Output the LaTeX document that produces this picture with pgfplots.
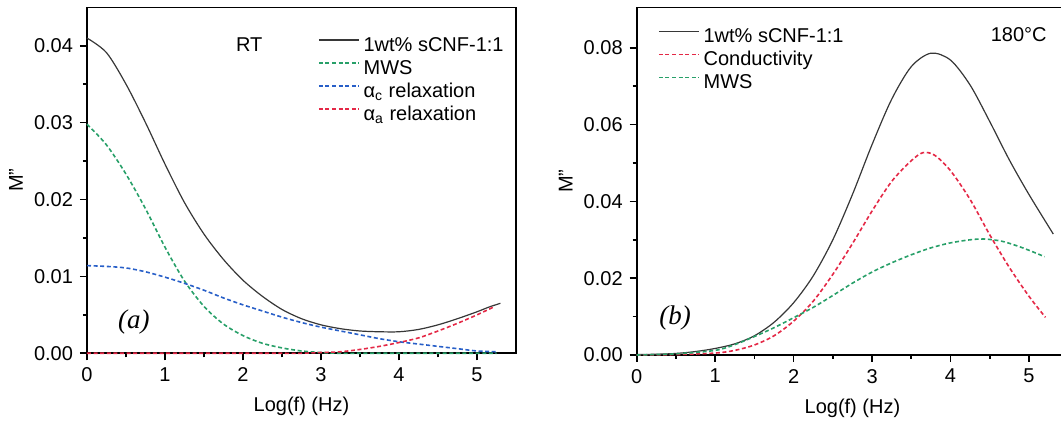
\documentclass[border=0pt]{standalone}
\usepackage{pgfplots}
\pgfplotsset{compat=1.18}
\usepackage{fontspec}
\setmainfont{Liberation Sans}
\newfontfamily\serifit{Liberation Serif}
\definecolor{cblack}{RGB}{55,55,55}
\definecolor{cgreen}{RGB}{40,160,105}
\definecolor{cblue}{RGB}{40,95,200}
\definecolor{cred}{RGB}{228,40,70}
\pgfplotsset{
 myaxis/.style={
  scale only axis,
  xmin=0, xmax=5.5, ymin=0,
  xtick={0,1,2,3,4,5},
  minor x tick num=1, minor y tick num=1,
  tick pos=left, tick align=outside,
  major tick length=3.5pt, minor tick length=2pt,
  axis line style={line width=0.8pt},
  every tick/.append style={black, line width=0.8pt},
  tick label style={font=\fontsize{10}{12}\selectfont},
  label style={font=\fontsize{10}{12}\selectfont},
  /pgf/number format/assume math mode=true,
  yticklabel style={/pgf/number format/fixed, /pgf/number format/fixed zerofill, /pgf/number format/precision=2},
  scaled y ticks=false,
  xlabel={Log(f) (Hz)},
  ylabel={M\symbol{34}},
  every axis y label/.style={at={(rel axis cs:0,0.5)}, xshift=-35.5pt, rotate=90, anchor=center},
  every axis x label/.style={at={(rel axis cs:0.5,0)}, yshift=-26.7pt, anchor=center},
  legend style={draw=none, fill=none, font=\fontsize{10}{12}\selectfont, inner sep=0pt, outer sep=0pt, row sep=1.5pt, column sep=2pt,
     nodes={inner sep=0pt, text height=7.5pt, text depth=2.5pt}},
  legend cell align=left,
  legend image code/.code={\draw[#1] (0pt,0.3em) -- (20pt,0.3em);},
  clip=false,
 },
 solidc/.style={cblack, line width=0.6pt, smooth},
 dashc/.style={line width=0.8pt, dash pattern=on 2pt off 1.3pt, smooth},
}
\begin{document}
\begin{tikzpicture}
\useasboundingbox (0,0) rectangle (530.5pt,213pt);
% ---------- panel (a) ----------
\begin{axis}[myaxis,
  at={(43.5pt,36.35pt)}, anchor=south west,
  width=214.5pt, height=173pt,
  ymax=0.045, ytick={0,0.01,0.02,0.03,0.04},
  legend style={at={(rel axis cs:0.5385,0.917)}, anchor=north west}]
\addplot[solidc] coordinates {
(0,0.0410) (0.25,0.0391) (0.5,0.0350) (0.75,0.0300) (1.0,0.0246) (1.25,0.0196)
(1.5,0.0155) (1.75,0.0122) (2.0,0.0095) (2.25,0.0074) (2.5,0.0057) (2.75,0.0045)
(3.0,0.0037) (3.25,0.0032) (3.5,0.0029) (3.75,0.0028) (4.0,0.0028) (4.25,0.0031)
(4.5,0.0037) (4.75,0.0045) (5.0,0.0054) (5.15,0.0060) (5.3,0.0065)};
\addlegendentry{1wt\% sCNF-1:1}
\addplot[dashc, cgreen] coordinates {
(0,0.0298) (0.25,0.0271) (0.5,0.0233) (0.75,0.0188) (1.0,0.0138) (1.25,0.0094)
(1.5,0.0061) (1.75,0.0038) (2.0,0.0023) (2.25,0.0013) (2.5,0.0007) (2.75,0.0003)
(3.0,0.0001) (3.25,0) (3.5,0) (4.0,0) (4.5,0) (5.0,0) (5.25,0)};
\addlegendentry{MWS}
\addplot[dashc, cblue] coordinates {
(0,0.0114) (0.25,0.0113) (0.5,0.0111) (0.75,0.0106) (1.0,0.0099) (1.25,0.0091)
(1.5,0.0082) (1.75,0.0072) (2.0,0.0063) (2.25,0.0055) (2.5,0.0047) (2.75,0.0040)
(3.0,0.0034) (3.25,0.0029) (3.5,0.0024) (3.75,0.0019) (4.0,0.0015) (4.25,0.0012)
(4.5,0.0009) (4.75,0.0006) (5.0,0.0003) (5.25,0.0002)};
\addlegendentry{α\textsubscript{c} relaxation}
\addplot[dashc, cred] coordinates {
(0,0) (0.5,0) (1.0,0) (1.5,0) (2.0,0) (2.5,0) (2.75,0) (3.0,0.0001) (3.25,0.0002)
(3.5,0.0005) (3.75,0.0009) (4.0,0.0014) (4.25,0.0020) (4.5,0.0029) (4.75,0.0039)
(5.0,0.0050) (5.23,0.0061)};
\addlegendentry{α\textsubscript{a} relaxation}
\node[font=\fontsize{10}{12}\selectfont] at (axis cs:2.08,0.0401) {RT};
\node[font=\serifit\itshape\fontsize{13.5}{15}\selectfont] at (axis cs:0.6,0.0041) {(a)};
\end{axis}
% ---------- panel (b) ----------
\begin{axis}[myaxis,
  at={(318.35pt,35.5pt)}, anchor=south west,
  width=215.75pt, height=173.75pt,
  ymax=0.0905, ytick={0,0.02,0.04,0.06,0.08},
  legend style={at={(rel axis cs:0.0494,0.943)}, anchor=north west}]
\addplot[solidc] coordinates {
(0,0.0001) (0.25,0.0002) (0.5,0.0004) (0.75,0.0009) (1.0,0.0017) (1.25,0.0029)
(1.5,0.0050) (1.75,0.0085) (2.0,0.0136) (2.25,0.0206) (2.5,0.0300) (2.75,0.0418)
(3.0,0.0548) (3.25,0.0666) (3.5,0.0751) (3.75,0.0786) (4.0,0.0768) (4.25,0.0703)
(4.5,0.0608) (4.75,0.0508) (5.0,0.0418) (5.31,0.0315)};
\addlegendentry{1wt\% sCNF-1:1}
\addplot[dashc, cred] coordinates {
(0,0) (0.5,0.0001) (1.0,0.0005) (1.25,0.0012) (1.5,0.0026) (1.75,0.0050)
(2.0,0.0088) (2.25,0.0140) (2.5,0.0210) (2.75,0.0290) (3.0,0.0375) (3.25,0.0452)
(3.5,0.0506) (3.65,0.0527) (3.8,0.0520) (4.0,0.0480) (4.25,0.0405) (4.5,0.0313)
(4.75,0.0228) (5.0,0.0153) (5.21,0.0098)};
\addlegendentry{Conductivity}
\addplot[dashc, cgreen] coordinates {
(0,0) (0.5,0.0003) (1.0,0.0012) (1.25,0.0027) (1.5,0.0048) (1.75,0.0071)
(2.0,0.0097) (2.25,0.0124) (2.5,0.0155) (2.75,0.0187) (3.0,0.0216) (3.25,0.0240)
(3.5,0.0261) (3.75,0.0279) (4.0,0.0292) (4.25,0.0300) (4.43,0.0302) (4.66,0.0296)
(4.92,0.0279) (5.2,0.0256)};
\addlegendentry{MWS}
\node[font=\fontsize{10}{12}\selectfont] at (axis cs:4.87,0.0834) {180°C};
\node[font=\serifit\itshape\fontsize{13.5}{15}\selectfont] at (axis cs:0.49,0.0096) {(b)};
\end{axis}
\end{tikzpicture}
\end{document}
